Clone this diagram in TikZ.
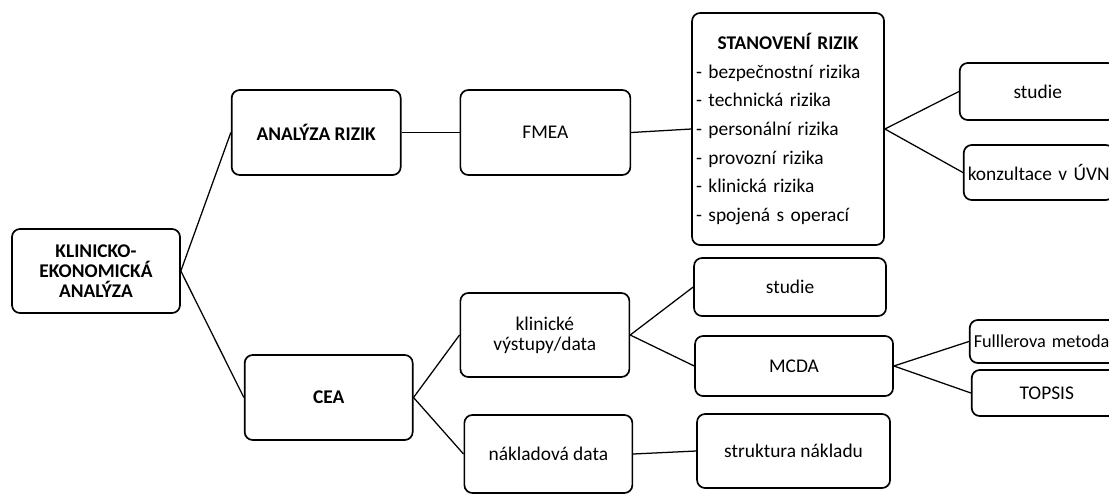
\documentclass[tikz,border=0pt]{standalone}
\usepackage{fontspec}
\setmainfont{Carlito}
\usepackage{tikz}
\usetikzlibrary{positioning}

\begin{document}
\begin{tikzpicture}[
    box/.style={rectangle, draw, line width=1.2pt, rounded corners=0.2cm, align=center, font=\fontsize{13.8}{14.2}\selectfont, inner sep=0.1cm},
    bbox/.style={box, font=\fontsize{13.8}{14.2}\selectfont\bfseries},
    line/.style={line width=0.9pt},
    node distance=1.5cm
]
    \useasboundingbox (0,0) rectangle (27.725,-12.375);
    \clip (0,0) rectangle (27.725,-12.375);

    \node[bbox, minimum width=4.2cm, minimum height=2.1cm] (kea) at (2.4,-6.775) {KLINICKO-\\EKONOMICKÁ\\ANALÝZA};
    \node[bbox, minimum width=4.225cm, minimum height=2.125cm, right=1.25cm of kea, yshift=3.4625cm] (rizika) {ANALÝZA RIZIK};
    \node[bbox, minimum width=4.2cm, minimum height=2.125cm, right=1.575cm of kea, yshift=-3.1625cm] (cea) {CEA};

    % horni vetev
    \node[box, minimum width=4.25cm, minimum height=2.125cm, right=1.45cm of rizika] (fmea) {FMEA};
    \node[box, minimum width=4.8cm, minimum height=5.8cm, text width=4.6cm, align=left, font=\fontsize{13.8}{20.4}\selectfont, right=1.5cm of fmea, yshift=0.0875cm] (stanoveni)
        {\hfil\textbf{STANOVENÍ RIZIK}\hfil\\- bezpečnostní rizika\\- technická rizika\\- personální rizika\\- provozní rizika\\- klinická rizika\\- spojená s operací};
    \node[box, minimum width=3.9cm, minimum height=1.425cm, right=1.85cm of stanoveni, yshift=0.9375cm] (studie1) {studie};
    \node[box, minimum width=3.75cm, minimum height=1.375cm, text width=3.55cm, align=left, right=1.95cm of stanoveni, yshift=-1.0875cm] (konzultace) {konzultace v ÚVN};

    % dolni vetev
    \node[box, minimum width=4.225cm, minimum height=2.1cm, right=1.15cm of cea, yshift=1.5625cm] (klinicke) {klinické\\výstupy/data};
    \node[box, minimum width=4.2cm, minimum height=1.95cm, right=1.25cm of cea, yshift=-1.4125cm] (naklady) {nákladová data};
    \node[box, minimum width=4.8cm, minimum height=1.45cm, right=1.575cm of klinicke, yshift=1.2cm] (studie2) {studie};
    \node[box, minimum width=4.95cm, minimum height=1.5cm, right=1.6cm of klinicke, yshift=-0.775cm] (mcda) {MCDA};
    \node[box, minimum width=4.825cm, minimum height=1.85cm, right=1.575cm of naklady, yshift=0.075cm] (struktura) {struktura nákladu};
    \node[box, minimum width=3.75cm, minimum height=1.075cm, text width=3.55cm, align=left, font=\fontsize{13}{14}\selectfont, right=1.875cm of mcda, yshift=0.6125cm] (fuller) {Fulllerova metoda};
    \node[box, minimum width=3.75cm, minimum height=1.15cm, right=1.925cm of mcda, yshift=-0.675cm] (topsis) {TOPSIS};

    \draw[line] (kea.east) -- (rizika.west);
    \draw[line] (kea.east) -- (cea.west);
    \draw[line] (rizika.east) -- (fmea.west);
    \draw[line] (fmea.east) -- (stanoveni.west);
    \draw[line] (stanoveni.east) -- (studie1.west);
    \draw[line] (stanoveni.east) -- (konzultace.west);
    \draw[line] (cea.east) -- (klinicke.west);
    \draw[line] (cea.east) -- (naklady.west);
    \draw[line] (klinicke.east) -- (studie2.west);
    \draw[line] (klinicke.east) -- (mcda.west);
    \draw[line] (naklady.east) -- (struktura.west);
    \draw[line] (mcda.east) -- (fuller.west);
    \draw[line] (mcda.east) -- (topsis.west);
\end{tikzpicture}
\end{document}
